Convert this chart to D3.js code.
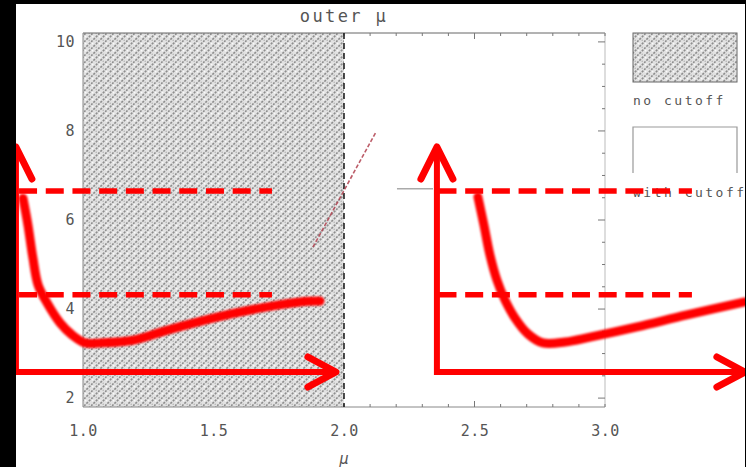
<!DOCTYPE html>
<html>
<head>
<meta charset="utf-8">
<script src="https://cdn.jsdelivr.net/npm/d3@7"></script>
<style>
  html, body { margin: 0; padding: 0; background: #fff; }
  svg { display: block; }
  text { font-family: "DejaVu Sans Mono", "Liberation Mono", monospace; fill: #555; }
</style>
</head>
<body>
<svg id="chart" width="746" height="467"></svg>
<script>
// ---- data ----
const xTickLabels = [1.0, 1.5, 2.0, 2.5, 3.0];
const yTickLabels = [2, 4, 6, 8, 10];
const noCutoffSpan = [1.0, 2.0];          // μ range shaded as "no cutoff"
const cutoffMu = 2.0;                      // dashed boundary

// hand-drawn red trend curves: [μ, value]
const curveLeft = [
  [0.770, 6.49], [0.789, 5.89], [0.808, 5.15], [0.828, 4.54], [0.862, 4.14],
  [0.912, 3.69], [0.958, 3.42], [1.008, 3.24], [1.065, 3.24], [1.192, 3.30],
  [1.314, 3.51], [1.441, 3.71], [1.567, 3.89], [1.705, 4.05], [1.831, 4.16],
  [1.908, 4.18]
];
const curveRight = [
  [2.513, 6.52], [2.536, 5.89], [2.559, 5.22], [2.586, 4.65], [2.617, 4.20],
  [2.655, 3.80], [2.705, 3.44], [2.762, 3.24], [2.847, 3.26], [2.943, 3.37],
  [3.123, 3.60], [3.314, 3.87], [3.536, 4.16]
];
// red axes overlays: origin μ, origin value, x-arrow end μ, y-arrow end value
const arrowAxes = [
  { mu: 0.743, v: 2.586, muEnd: 1.969, vEnd: 7.64 },
  { mu: 2.356, v: 2.586, muEnd: 3.536, vEnd: 7.64 }
];
// dashed guide levels and their μ extent
const guideLevels = [6.65, 4.32];
const guideSpans = [[0.755, 1.724], [2.362, 3.333]];
// thin fit line near the boundary
const fitLine = [[1.881, 5.39], [2.123, 7.98]];
const markerLine = [[2.203, 6.70], [2.341, 6.70]];

// ---- layout ----
const W = 746, H = 467;
const svg = d3.select("#chart");
const x = d3.scaleLinear().domain([1, 3]).range([83, 605]);
const y = d3.scaleLinear().domain([1.8, 10.2]).range([407, 33]);
const [yBottom, yTop] = y.range();

const defs = svg.append("defs");
const pat = defs.append("pattern")
  .attr("id", "hatch").attr("patternUnits", "userSpaceOnUse")
  .attr("width", 7).attr("height", 7);
pat.append("rect").attr("width", 7).attr("height", 7).attr("fill", "#e2e2e2");
pat.append("path")
  .attr("d", "M0,7 L7,0 M-1.75,1.75 L1.75,-1.75 M5.25,8.75 L8.75,5.25")
  .attr("stroke", "#8e8e8e").attr("stroke-width", 1.6)
  .attr("stroke-dasharray", "2.2,1.2");
pat.append("circle").attr("cx", 1.6).attr("cy", 1.6).attr("r", 0.9).attr("fill", "#fafafa");
pat.append("circle").attr("cx", 5.2).attr("cy", 5.2).attr("r", 0.8).attr("fill", "#b4b4b4");

const soft = defs.append("filter").attr("id", "soft")
  .attr("x", "-5%").attr("y", "-5%").attr("width", "110%").attr("height", "110%");
soft.append("feGaussianBlur").attr("stdDeviation", 1.1);

svg.append("rect").attr("width", W).attr("height", H).attr("fill", "#fff");

// shaded "no cutoff" region
svg.append("rect")
  .attr("x", x(noCutoffSpan[0])).attr("y", yTop)
  .attr("width", x(noCutoffSpan[1]) - x(noCutoffSpan[0]))
  .attr("height", yBottom - yTop)
  .attr("fill", "url(#hatch)");

// frame
const frame = svg.append("g").attr("stroke", "#777").attr("fill", "none");
frame.append("line").attr("x1", x(1)).attr("x2", x(3)).attr("y1", yTop).attr("y2", yTop).attr("stroke", "#666");
frame.append("line").attr("x1", x(1)).attr("x2", x(3)).attr("y1", yBottom).attr("y2", yBottom).attr("stroke", "#888");
frame.append("line").attr("x1", x(1)).attr("x2", x(1)).attr("y1", yTop).attr("y2", yBottom).attr("stroke", "#888");
frame.append("line").attr("x1", x(3)).attr("x2", x(3)).attr("y1", yTop).attr("y2", yBottom).attr("stroke", "#bbb");

// minor ticks on the open half
const minorMu = d3.range(20, 31).map(d => d / 10);
const tk = svg.append("g").attr("stroke", "#777").attr("stroke-width", 1);
tk.selectAll(".tb").data(minorMu).join("line")
  .attr("x1", d => x(d)).attr("x2", d => x(d))
  .attr("y1", yBottom).attr("y2", d => yBottom - (Math.abs(d - 2.5) < 1e-6 ? 6 : 3));
tk.selectAll(".tt").data(minorMu).join("line")
  .attr("x1", d => x(d)).attr("x2", d => x(d))
  .attr("y1", yTop).attr("y2", d => yTop + (Math.abs(d - 2.5) < 1e-6 ? 6 : 3));
const rightTicks = d3.range(4, 21).map(d => d / 2);
tk.selectAll(".tr").data(rightTicks).join("line")
  .attr("x1", x(3)).attr("x2", d => x(3) - (d % 2 === 0 ? 7 : 3))
  .attr("y1", d => y(d)).attr("y2", d => y(d));

// dashed cutoff boundary
svg.append("line")
  .attr("x1", x(cutoffMu)).attr("x2", x(cutoffMu))
  .attr("y1", yTop).attr("y2", yBottom)
  .attr("stroke", "#222").attr("stroke-width", 1.6)
  .attr("stroke-dasharray", "6,4");

// tick labels via axes
const xAxis = svg.append("g").attr("transform", `translate(0,${yBottom})`)
  .call(d3.axisBottom(x).tickValues(xTickLabels).tickFormat(d3.format(".1f")).tickSize(0).tickPadding(18));
const yAxis = svg.append("g").attr("transform", `translate(${x(1) - 8},0)`)
  .call(d3.axisLeft(y).tickValues(yTickLabels).tickFormat(d3.format("d")).tickSize(0).tickPadding(0));
[xAxis, yAxis].forEach(a => {
  a.select(".domain").remove();
  a.selectAll("text").attr("font-family", "'DejaVu Sans Mono', monospace")
    .attr("font-size", 15).attr("fill", "#666").attr("letter-spacing", 0.5);
});

// titles
svg.append("text").attr("x", 344).attr("y", 22).attr("text-anchor", "middle")
  .attr("font-size", 17).attr("letter-spacing", 2.4).attr("fill", "#555")
  .text("outer μ");
svg.append("text").attr("x", x(2)).attr("y", 464).attr("text-anchor", "middle")
  .attr("font-size", 15).attr("font-style", "italic").attr("fill", "#555")
  .text("μ");

// legend
const lg = svg.append("g");
lg.append("rect").attr("x", 633).attr("y", 33).attr("width", 104).attr("height", 49)
  .attr("fill", "url(#hatch)").attr("stroke", "#666");
lg.append("text").attr("x", 633).attr("y", 105).attr("font-size", 13)
  .attr("letter-spacing", 2.5).attr("fill", "#555").text("no cutoff");
lg.append("path").attr("d", "M633,173 V127 H737 V173")
  .attr("fill", "none").attr("stroke", "#999").attr("stroke-width", 1.2);
lg.append("text").attr("x", 633).attr("y", 197).attr("font-size", 13)
  .attr("letter-spacing", 2.5).attr("fill", "#555").text("with cutoff");

// thin fit line and marker
const line = d3.line().x(d => x(d[0])).y(d => y(d[1]));
svg.append("path").attr("d", line(fitLine))
  .attr("fill", "none").attr("stroke", "#b0404e").attr("stroke-width", 1.6)
  .attr("stroke-dasharray", "4,2").attr("opacity", 0.85);
svg.append("path").attr("d", line(markerLine))
  .attr("fill", "none").attr("stroke", "#aaa").attr("stroke-width", 1.5);

// red overlay: guide levels
const red = "#ff0000";
const ov = svg.append("g");
guideSpans.forEach(span => {
  ov.selectAll(null).data(guideLevels).join("line")
    .attr("x1", x(span[0])).attr("x2", x(span[1]))
    .attr("y1", d => y(d)).attr("y2", d => y(d))
    .attr("stroke", red).attr("stroke-width", 5.5)
    .attr("stroke-dasharray", "18,8.7");
});

// red overlay: axes arrows
arrowAxes.forEach(a => {
  const ox = x(a.mu), oy = y(a.v), ex = x(a.muEnd), ey = y(a.vEnd);
  ov.append("path")
    .attr("d", `M${ox},${ey} V${oy} H${ex}`)
    .attr("fill", "none").attr("stroke", red).attr("stroke-width", 6)
    .attr("stroke-linejoin", "miter");
  ov.append("path")
    .attr("d", `M${ox - 16},${ey + 32} L${ox},${ey} L${ox + 16},${ey + 32}`)
    .attr("fill", "none").attr("stroke", red).attr("stroke-width", 7)
    .attr("stroke-linecap", "round").attr("stroke-linejoin", "round");
  ov.append("path")
    .attr("d", `M${ex - 28},${oy - 15} L${ex},${oy} L${ex - 28},${oy + 15}`)
    .attr("fill", "none").attr("stroke", red).attr("stroke-width", 7)
    .attr("stroke-linecap", "round").attr("stroke-linejoin", "round");
});

// red overlay: trend curves
const smooth = d3.line().x(d => x(d[0])).y(d => y(d[1])).curve(d3.curveCatmullRom.alpha(0.5));
[curveLeft, curveRight].forEach(c => {
  ov.append("path").attr("d", smooth(c))
    .attr("fill", "none").attr("stroke", red).attr("stroke-width", 9)
    .attr("stroke-linecap", "round").attr("filter", "url(#soft)");
});

// dark border strips
svg.append("rect").attr("x", 0).attr("y", 0).attr("width", 16).attr("height", H).attr("fill", "#000");
svg.append("rect").attr("x", 0).attr("y", 0).attr("width", W).attr("height", 4).attr("fill", "#000");
svg.append("rect").attr("x", W - 1).attr("y", 0).attr("width", 1).attr("height", H).attr("fill", "#000");
</script>
</body>
</html>
